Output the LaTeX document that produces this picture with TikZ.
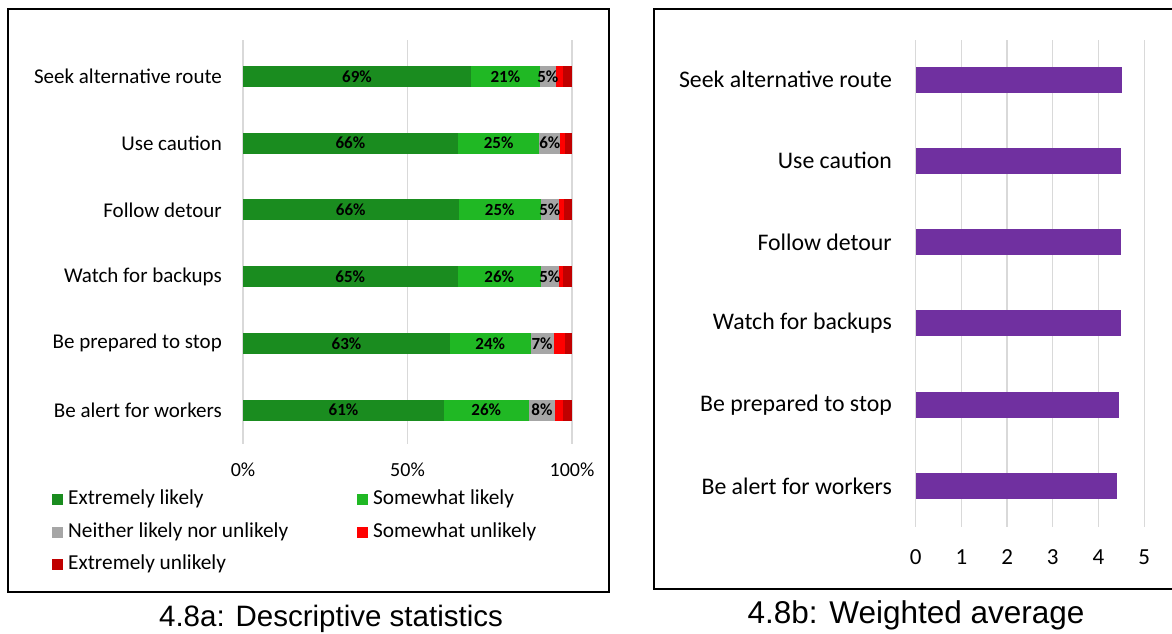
\documentclass[tikz,border=0pt]{standalone}
\usepackage{fontspec}
\setmainfont{Carlito}
\newfontfamily\capfont{Liberation Sans}
\usetikzlibrary{positioning}

\definecolor{exlikely}{RGB}{26,140,31}
\definecolor{swlikely}{RGB}{32,184,36}
\definecolor{neither}{RGB}{166,166,166}
\definecolor{swunlikely}{RGB}{255,0,0}
\definecolor{exunlikely}{RGB}{192,0,0}
\definecolor{avgbar}{RGB}{112,48,160}
\definecolor{gridgray}{RGB}{217,217,217}

\begin{document}
\begin{tikzpicture}[x=1pt,y=-1pt,
  panel/.style={draw=black, line width=1.6pt},
  gridline/.style={draw=gridgray, line width=1.3pt},
  catlabel/.style={anchor=east, inner sep=0pt, font=\fontsize{21}{24}\selectfont},
  bigcat/.style={anchor=east, inner sep=0pt, font=\fontsize{23.8}{26}\selectfont},
  ticklabel/.style={inner sep=0pt, font=\fontsize{20}{24}\selectfont},
  bigtick/.style={inner sep=0pt, font=\fontsize{23}{26}\selectfont},
  datalabel/.style={inner sep=0pt, font=\fontsize{17}{19}\selectfont\bfseries},
  legtext/.style={anchor=west, inner sep=0pt, font=\fontsize{21.3}{24}\selectfont},
  caption/.style={inner sep=0pt, font=\fontsize{29.5}{32}\selectfont\capfont}]

  \useasboundingbox (0,0) rectangle (1172,633);

  % panels
  \draw[panel] (8,9) rectangle (609,592);
  \draw[panel] (654,9) rectangle (1180,589);

  % left chart: grid
  \foreach \p/\t in {0/0\%,50/50\%,100/100\%}{
    \draw[gridline] ({243+3.29*\p},40) -- ({243+3.29*\p},444);
    \node[ticklabel] (tick\p) at ({243+3.29*\p},470) {\t};
  }

  % left chart: stacked bars
  \foreach \a/\b/\c/\d/\la/\lb/\lc/\txt [count=\i] in {
      69.3/20.9/4.9/2.2/69/21/5/Seek alternative route,
      65.3/24.8/6.3/1.5/66/25/6/Use caution,
      65.5/25.1/5.3/1.8/66/25/5/Follow detour,
      65.2/25.4/5.3/1.3/65/26/5/Watch for backups,
      62.9/24.5/7.0/3.5/63/24/7/Be prepared to stop,
      61.1/25.7/8.1/2.4/61/26/8/Be alert for workers}{
    \pgfmathsetmacro\yy{76.5+66.7*(\i-1)}
    \pgfmathsetmacro\xa{243+3.29*\a}
    \pgfmathsetmacro\xb{\xa+3.29*\b}
    \pgfmathsetmacro\xc{\xb+3.29*\c}
    \pgfmathsetmacro\xd{\xc+3.29*\d}
    \fill[exlikely] (243,\yy-10.5) rectangle (\xa,\yy+10.5);
    \fill[swlikely] (\xa,\yy-10.5) rectangle (\xb,\yy+10.5);
    \fill[neither] (\xb,\yy-10.5) rectangle (\xc,\yy+10.5);
    \fill[swunlikely] (\xc,\yy-10.5) rectangle (\xd,\yy+10.5);
    \fill[exunlikely] (\xd,\yy-10.5) rectangle (572,\yy+10.5);
    \node[datalabel] (va\i) at ({(243+\xa)/2},\yy) {\la\%};
    \node[datalabel] (vb\i) at ({(\xa+\xb)/2},\yy) {\lb\%};
    \node[datalabel] (vc\i) at ({(\xb+\xc)/2},\yy) {\lc\%};
    \node[catlabel] (cat\i) at (222,\yy) {\txt};
  }

  % legend
  \foreach \x/\y/\col/\txt [count=\k] in {
      57/499/exlikely/Extremely likely,
      362/499/swlikely/Somewhat likely,
      57/532/neither/Neither likely nor unlikely,
      362/532/swunlikely/Somewhat unlikely,
      57/564/exunlikely/Extremely unlikely}{
    \fill[\col] (\x-5.5,\y-5.5) rectangle (\x+5.5,\y+5.5);
    \node[legtext] (leg\k) at (\x+11,\y) {\txt};
  }

  % right chart: grid
  \foreach \v in {0,...,5}{
    \draw[gridline] ({915.7+45.7*\v},40) -- ({915.7+45.7*\v},527);
    \node[bigtick] (rtick\v) at ({915.7+45.7*\v},557) {\v};
  }

  % right chart: bars
  \foreach \v/\txt [count=\i] in {
      4.52/Seek alternative route,
      4.50/Use caution,
      4.50/Follow detour,
      4.49/Watch for backups,
      4.44/Be prepared to stop,
      4.40/Be alert for workers}{
    \pgfmathsetmacro\yy{79.5+81.3*(\i-1)}
    \fill[avgbar] (915.7,\yy-13) rectangle ({915.7+45.7*\v},\yy+13);
    \node[bigcat] (rcat\i) at (892,\yy) {\txt};
  }

  % captions
  \node[caption] (capa) at (331,619) {4.8a: Descriptive statistics};
  \node[caption, font=\fontsize{31.5}{34}\selectfont\capfont] (capb) at (916,615) {4.8b: Weighted average};
\end{tikzpicture}
\end{document}
